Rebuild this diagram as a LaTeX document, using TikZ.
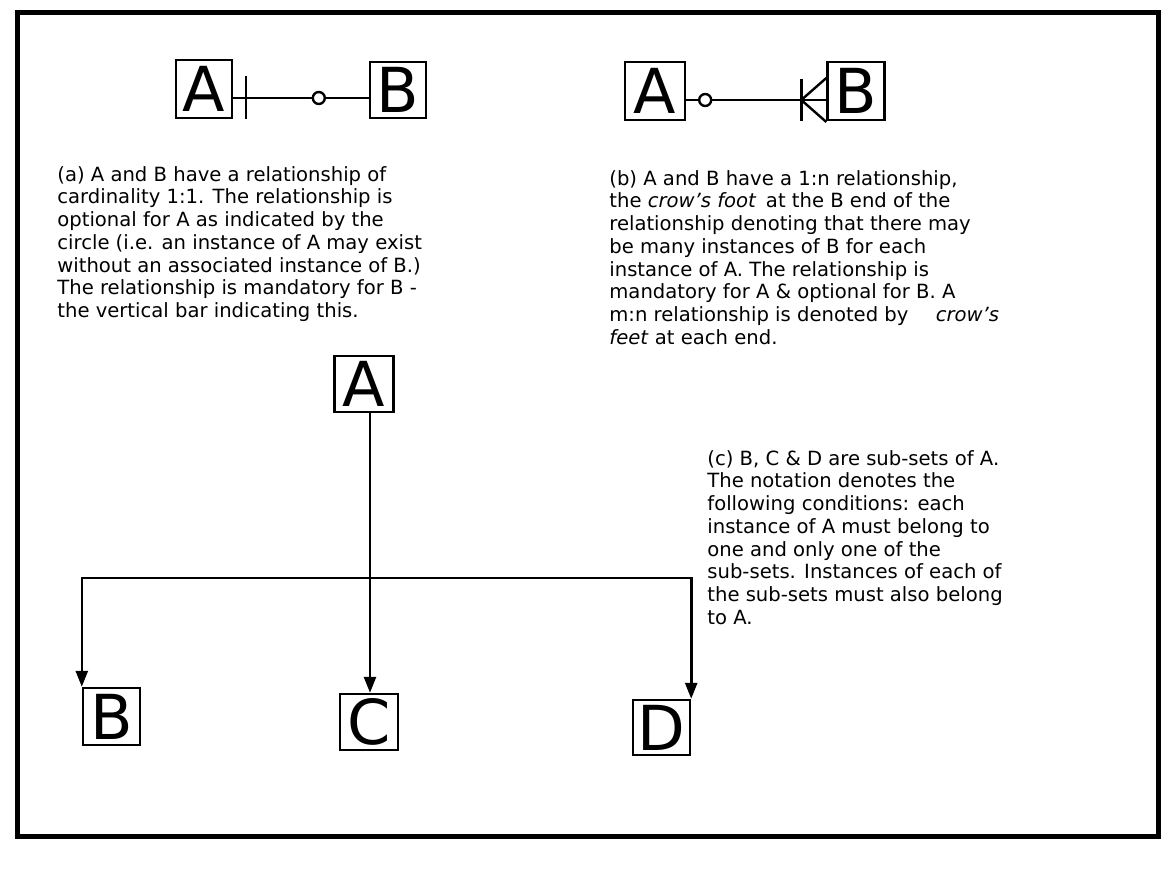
\documentclass[tikz,border=0pt]{standalone}
\usepackage{fontspec}
\setmainfont{DejaVu Sans}
\usetikzlibrary{arrows.meta,calc}
\begin{document}
\begin{tikzpicture}[x=0.5pt,y=-0.5pt,
  ent/.style={draw,line width=1.2pt,inner sep=0pt,font=\fontsize{31}{31}\selectfont},
  conn/.style={line width=1.2pt},
  arr/.style={line width=1.3pt,-{Triangle[length=8pt,width=6pt]}},
  para/.style={anchor=north west,inner sep=0pt,align=left,font=\fontsize{9.8}{11.35}\selectfont}]
\useasboundingbox (0,0) rectangle (1169,878);
\draw[line width=2.5pt] (17,12) rectangle (1158,836);

% (a) diagram
\node[ent,minimum width=28pt,minimum height=29pt] (A1) at (204,89) {A};
\node[ent,minimum width=28pt,minimum height=28pt] (B1) at (398,90) {B};
\draw[conn] ($(A1.east)+(0,9)$) coordinate (p1) -- (B1.west |- p1) coordinate (q1);
\draw[conn] ($(p1)+(13,-22)$) -- ($(p1)+(13,21)$);
\draw[conn,fill=white] ($(q1)+(-50,0)$) circle (3pt);

% (b) diagram
\node[ent,minimum width=30pt,minimum height=29pt] (A2) at (655,91) {A};
\node[ent,minimum width=28.5pt,minimum height=29pt] (B2) at (856,91) {B};
\draw[conn] ($(A2.east)+(0,9)$) coordinate (p2) -- (B2.west |- p2) coordinate (q2);
\draw[conn,fill=white] ($(p2)+(19,0)$) circle (3pt);
\draw[conn] ($(q2)+(-25,-21)$) -- ($(q2)+(-25,21)$);
\draw[conn] ($(q2)+(0,-22)$) -- ($(q2)+(-25,0)$) -- ($(q2)+(0,22)$);

% (c) diagram
\node[ent,minimum width=29.5pt,minimum height=28pt] (A3) at (364,384) {A};
\node[ent,minimum width=28.5pt,minimum height=28.5pt] (B) at (111.5,716.5) {B};
\node[ent,minimum width=29pt,minimum height=28pt] (C) at (369,722) {C};
\node[ent,minimum width=28.5pt,minimum height=27.5pt] (D) at (661.5,727.5) {D};
\coordinate (J) at (370,578);
\draw[conn] (A3.south -| J) -- (J);
\draw[arr] (J) -- (J |- C.north);
\draw[arr] (J) -| (B.north west);
\draw[arr] (J) -| (D.north east);

% texts
\node[para] (ta) at (57,166) {(a) A and B have a relationship of\\
cardinality 1:1.  The relationship is\\
optional for A as indicated by the\\
circle (i.e. an instance of A may exist\\
without an associated instance of B.)\\
The relationship is mandatory for B -\\
the vertical bar indicating this.};

\node[para] (tb) at (609,170) {(b) A and B have a 1:n relationship,\\
the \textit{crow's foot}\, at the B end of the\\
relationship denoting that there may\\
be many instances of B for each\\
instance of A.  The relationship is\\
mandatory for A \& optional for B.  A\\
m:n relationship is denoted by\hspace{1.4em}\textit{crow's}\\
\textit{feet} at each end.};

\node[para] (tc) at (707,450) {(c) B, C \& D are sub-sets of A.\\
The notation denotes the\\
following conditions: each\\
instance of A must belong to\\
one and only one of the\\
sub-sets.  Instances of each of\\
the sub-sets must also belong\\
to A.};
\end{tikzpicture}
\end{document}
